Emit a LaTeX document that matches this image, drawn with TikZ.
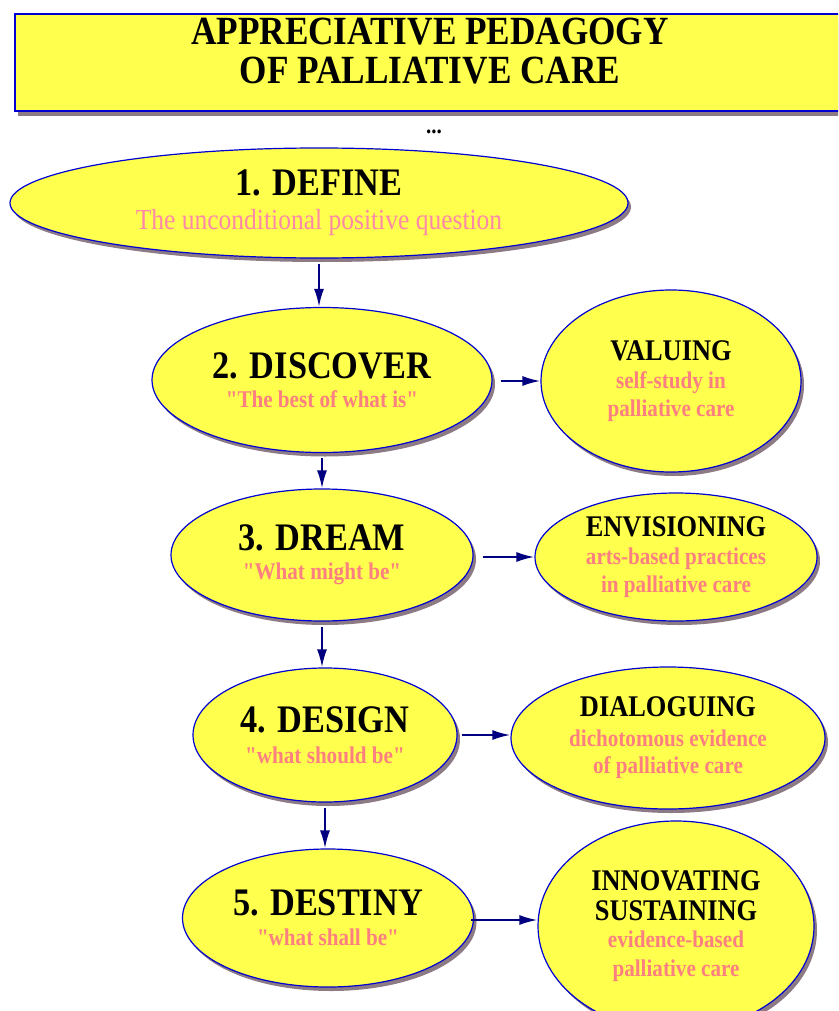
\documentclass[tikz,border=0pt]{standalone}
\usepackage{fontspec}
\setmainfont{Liberation Serif}[FakeStretch=0.88, Ligatures=TeXOff]
\usetikzlibrary{shapes.geometric}
\usetikzlibrary{shadows}
\usetikzlibrary{arrows.meta}

\definecolor{stageyellow}{RGB}{255,255,77}
\definecolor{stageblue}{RGB}{0,0,210}
\definecolor{flownavy}{RGB}{0,0,128}
\definecolor{shadowgray}{RGB}{140,122,132}
\definecolor{quotepink}{RGB}{255,136,168}
\definecolor{quotesalmon}{RGB}{252,128,128}

\begin{document}
\begin{tikzpicture}[x=1pt, y=-1pt,
stage/.style={ellipse, draw=stageblue, line width=1.2pt, fill=stageyellow, inner sep=0pt,
  align=center, drop shadow={shadow xshift=3pt, shadow yshift=-4pt, fill=shadowgray, opacity=1}},
flow/.style={draw=flownavy, line width=2pt, -{Latex[length=18pt, width=10pt]}}]

\useasboundingbox (0,0) rectangle (838,1011);
\clip (0,0) rectangle (838,1011);

\def\L{\fontsize{39}{42}\selectfont\bfseries}
\def\R{\fontsize{30}{31}\selectfont\bfseries}
\def\Q{\fontsize{24}{27}\selectfont\bfseries\color{quotesalmon}}

% TITLE
\node[rectangle, draw=stageblue, line width=1.2pt, fill=stageyellow, minimum width=830, minimum height=97,
  drop shadow={shadow xshift=3pt, shadow yshift=-5pt, fill=shadowgray, opacity=1}] (title) at (430,62.5) {};
\node[align=center, font=\bfseries\fontsize{40}{39}\selectfont] (titletext) at (430,51)
  {APPRECIATIVE PEDAGOGY\\OF PALLIATIVE CARE};
\node[font=\bfseries\fontsize{24}{24}\selectfont] (dots) at (434,132) {...};

% LEFT COLUMN
\node[stage, minimum width=618, minimum height=110] (define) at (319,203)
  {\L 1. DEFINE\\[12pt]{\fontsize{29}{30}\selectfont\mdseries\color{quotepink}The unconditional positive question}};
\node[stage, minimum width=340, minimum height=145] (discover) at (322,380)
  {\L 2. DISCOVER\\[11pt]\Q "The best of what is"};
\node[stage, minimum width=302, minimum height=132] (dream) at (322,555)
  {\L 3. DREAM\\[11pt]\Q "What might be"};
\node[stage, minimum width=264, minimum height=134] (design) at (325,735)
  {\L 4. DESIGN\\[13pt]\Q "what should be"};
\node[stage, minimum width=291, minimum height=138] (destiny) at (328,918)
  {\L 5. DESTINY\\[12pt]\Q "what shall be"};

% RIGHT COLUMN
\node[stage, minimum width=260, minimum height=182] (valuing) at (671,381)
  {\R VALUING\\[10pt]\Q self-study in\\[5pt]\Q palliative care};
\node[stage, minimum width=282, minimum height=128] (envisioning) at (676,557)
  {\R ENVISIONING\\[10pt]\Q arts-based practices\\[5pt]\Q in palliative care};
\node[stage, minimum width=314, minimum height=142] (dialoguing) at (668,738)
  {\R DIALOGUING\\[12pt]\Q dichotomous evidence\\[9pt]\Q of palliative care};
\node[stage, minimum width=276, minimum height=210] (innovating) at (676,926)
  {\R INNOVATING\\[9pt]\R SUSTAINING\\[9pt]\Q evidence-based\\[11pt]\Q palliative care};

% ARROWS DOWN
\draw[flow, shorten <=5pt] (define) -- (define |- discover.north);
\draw[flow, shorten <=5pt] (discover) -- (discover |- dream.north);
\draw[flow, shorten <=5pt] (dream) -- (dream |- design.north);
\draw[flow, shorten <=5pt] (design) -- (design |- destiny.north);

% ARROWS RIGHT
\coordinate (discoverout) at ([shift={(8,1)}]discover.east);
\coordinate (dreamout) at ([shift={(9,2)}]dream.east);
\coordinate (designout) at ([shift={(4,0)}]design.east);
\coordinate (destinyout) at ([shift={(-3,2)}]destiny.east);
\draw[flow] (discoverout) -- (valuing.west |- discoverout);
\draw[flow] (dreamout) -- (envisioning.west |- dreamout);
\draw[flow] (designout) -- (dialoguing.west |- designout);
\draw[flow] (destinyout) -- (innovating.west |- destinyout);

\end{tikzpicture}
\end{document}
